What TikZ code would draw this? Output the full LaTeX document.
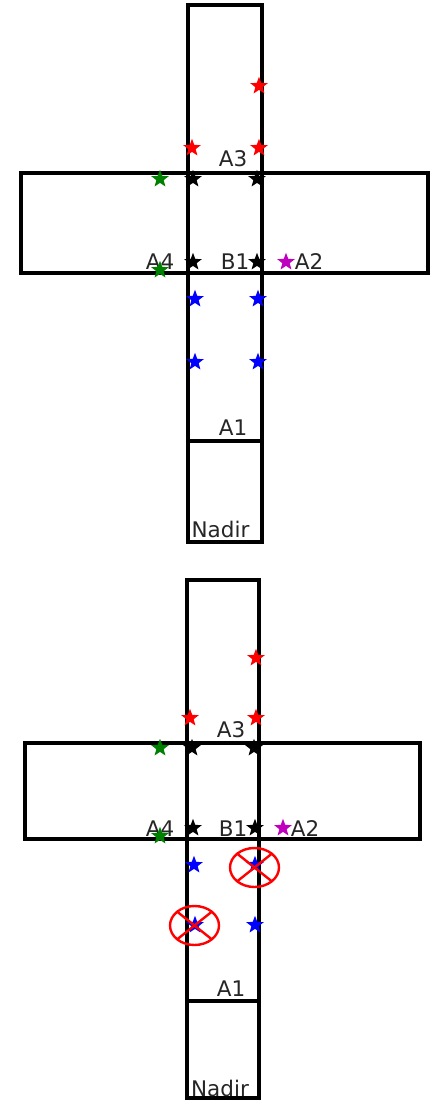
\documentclass[tikz,border=0pt]{standalone}
\usepackage{fontspec}
\setmainfont{DejaVu Sans}
\usetikzlibrary{shapes.geometric}

\definecolor{mplgreen}{rgb}{0,0.5,0}
\definecolor{mplmagenta}{rgb}{0.75,0,0.75}

\tikzset{
  frame/.style={draw=black, line width=3.2pt},
  pt/.style={star, star points=5, star point ratio=2.4, minimum size=15pt,
             inner sep=0pt, fill=#1, draw=#1, line width=1.2pt},
  lbl/.style={anchor=base, inner sep=0pt, text=black!85,
              font=\fontsize{21.5}{22}\selectfont},
  strike/.style={draw=red, line width=2.4pt},
}

\begin{document}
\begin{tikzpicture}[x=1pt, y=-1pt]
\useasboundingbox (0,0) rectangle (436,1100);
\fill[white] (0,0) rectangle (436,1100);

% ---------- upper layout ----------
\draw[frame] (188,5) rectangle (262,542);
\draw[frame] (21,173) rectangle (428,273);
\draw[frame] (188,441) -- (262,441);

\node[lbl] (ua3) at (233,166) {A3};
\node[lbl] (ua4) at (160,269) {A4};
\node[lbl] (ub1) at (235,269) {B1};
\node[lbl] (ua2) at (309,269) {A2};
\node[lbl] (ua1) at (233,435) {A1};
\node[lbl] (unadir) at (220.5,537) {Nadir};

\node[pt=red] (ur1) at (259,86) {};
\node[pt=red] (ur2) at (192,148) {};
\node[pt=red] (ur3) at (259,148) {};
\node[pt=mplgreen] (ug1) at (160,179) {};
\node[pt=mplgreen] (ug2) at (160,270) {};
\node[pt=black] (uk1) at (193,179) {};
\node[pt=black] (uk2) at (257,179) {};
\node[pt=black] (uk3) at (193,262) {};
\node[pt=black] (uk4) at (257,262) {};
\node[pt=mplmagenta] (um1) at (286,262) {};
\node[pt=blue] (ub1s) at (195,299) {};
\node[pt=blue] (ub2s) at (258,299) {};
\node[pt=blue] (ub3s) at (195,362) {};
\node[pt=blue] (ub4s) at (258,362) {};

% ---------- lower layout ----------
\draw[frame] (187,580) rectangle (259,1098);
\draw[frame] (25,743) rectangle (420,839);
\draw[frame] (187,1001) -- (259,1001);

\node[lbl] (la3) at (231,737) {A3};
\node[lbl] (la4) at (160,836) {A4};
\node[lbl] (lb1) at (233,836) {B1};
\node[lbl] (la2) at (305,836) {A2};
\node[lbl] (la1) at (231,996) {A1};
\node[lbl] (lnadir) at (220,1096) {Nadir};

\node[pt=red] (lr1) at (256,658) {};
\node[pt=red] (lr2) at (190,718) {};
\node[pt=red] (lr3) at (256,718) {};
\node[pt=mplgreen] (lg1) at (160,748) {};
\node[pt=mplgreen] (lg2) at (160,836) {};
\node[pt=black] (lk1) at (192,748) {};
\node[pt=black] (lk2) at (254,748) {};
\node[pt=black] (lk3) at (193,828) {};
\node[pt=black] (lk4) at (255,828) {};
\node[pt=mplmagenta] (lm1) at (283,828) {};
\node[pt=blue] (lb1s) at (194,865) {};
\node[pt=blue] (lb2s) at (255,865) {};
\node[pt=blue] (lb3s) at (195,925) {};
\node[pt=blue] (lb4s) at (255,925) {};

% rejected points: circled and crossed out
\foreach \cx/\cy in {254.5/867.5, 194.5/925.5} {
  \draw[strike] (\cx,\cy) ellipse [x radius=24.5, y radius=19.5];
  \draw[strike] (\cx-17.3,\cy-13.8) -- (\cx+17.3,\cy+13.8);
  \draw[strike] (\cx-17.3,\cy+13.8) -- (\cx+17.3,\cy-13.8);
}
\end{tikzpicture}
\end{document}
